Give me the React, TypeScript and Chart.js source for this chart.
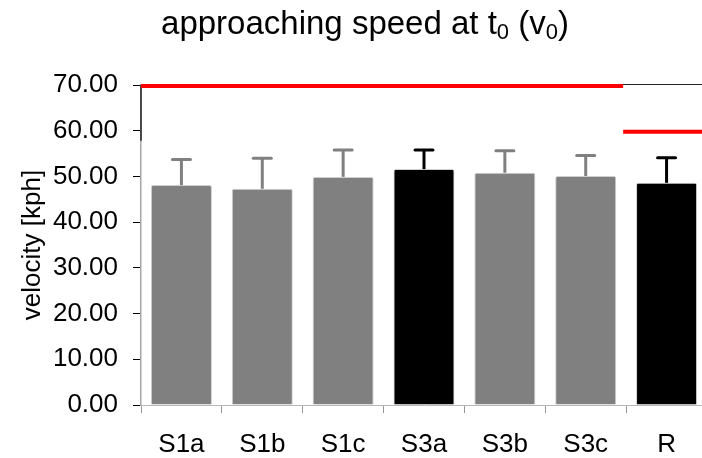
import React, { useEffect, useRef } from "react";
import { Chart, registerables } from "chart.js";

Chart.register(...registerables);

const categories = ["S1a", "S1b", "S1c", "S3a", "S3b", "S3c", "R"];
const meanVelocity = [48.1, 47.3, 49.9, 51.6, 50.8, 50.1, 48.6];
const sdVelocity = [5.6, 6.7, 5.9, 4.2, 4.8, 4.5, 5.5];
const barColors = ["#808080", "#808080", "#808080", "#000000", "#808080", "#808080", "#000000"];
const speedLimit = [70, 70, 70, 70, 70, 70, 60];
const yTicks = [0, 10, 20, 30, 40, 50, 60, 70];

const FONT = "'Liberation Sans', Arial, sans-serif";

const decorPlugin = {
  id: "decor",
  afterDatasetsDraw(chart: any) {
    const ctx = chart.ctx;
    const x = chart.scales.x;
    const y = chart.scales.y;
    const area = chart.chartArea;
    ctx.save();
    // top frame line
    ctx.strokeStyle = "#222";
    ctx.lineWidth = 1;
    ctx.beginPath();
    ctx.moveTo(area.left, Math.round(y.getPixelForValue(70)) - 0.5);
    ctx.lineTo(area.right, Math.round(y.getPixelForValue(70)) - 0.5);
    ctx.stroke();
    // dark upper part of y axis
    ctx.strokeStyle = "#222";
    ctx.lineWidth = 1.5;
    ctx.beginPath();
    ctx.moveTo(area.left, y.getPixelForValue(70));
    ctx.lineTo(area.left, y.getPixelForValue(57.8));
    ctx.stroke();

    // speed limit lines
    const half = (x.getPixelForValue(1) - x.getPixelForValue(0)) / 2;
    ctx.strokeStyle = "#ff0000";
    ctx.lineWidth = 4;
    ctx.lineCap = "butt";
    let start = 0;
    for (let i = 1; i <= speedLimit.length; i++) {
      if (i === speedLimit.length || speedLimit[i] !== speedLimit[start]) {
        const x0 = start === 0 ? area.left : x.getPixelForValue(start) - half - 3;
        const x1 = i === speedLimit.length ? area.right + 20 : x.getPixelForValue(i) - half - 3;
        const py = y.getPixelForValue(speedLimit[start]) + 1;
        ctx.beginPath();
        ctx.moveTo(x0, py);
        ctx.lineTo(x1, py);
        ctx.stroke();
        start = i;
      }
    }

    // error bars
    const meta = chart.getDatasetMeta(0);
    meta.data.forEach((bar: any, i: number) => {
      const top = y.getPixelForValue(meanVelocity[i] + sdVelocity[i]);
      const base = y.getPixelForValue(meanVelocity[i]);
      ctx.strokeStyle = barColors[i];
      ctx.lineWidth = 3;
      ctx.lineCap = "butt";
      ctx.beginPath();
      ctx.moveTo(bar.x, base);
      ctx.lineTo(bar.x, top);
      ctx.stroke();
      ctx.lineCap = "round";
      ctx.beginPath();
      ctx.moveTo(bar.x - 9, top);
      ctx.lineTo(bar.x + 9, top);
      ctx.stroke();
    });

    // title with subscripts
    const mainFont = `33px ${FONT}`;
    const subFont = `22px ${FONT}`;
    const parts: [string, boolean][] = [
      ["approaching speed at t", false],
      ["0", true],
      [" (v", false],
      ["0", true],
      [")", false],
    ];
    let total = 0;
    parts.forEach(([t, sub]) => {
      ctx.font = sub ? subFont : mainFont;
      total += ctx.measureText(t).width;
    });
    let cx = 365 - total / 2;
    ctx.fillStyle = "#000";
    ctx.textBaseline = "alphabetic";
    ctx.textAlign = "left";
    parts.forEach(([t, sub]) => {
      ctx.font = sub ? subFont : mainFont;
      ctx.fillText(t, cx, sub ? 39 : 34);
      cx += ctx.measureText(t).width;
    });
    ctx.restore();
  },
};

export default function App() {
  const ref = useRef<HTMLCanvasElement>(null);
  useEffect(() => {
    document.body.style.margin = "0";
    const chart = new Chart(ref.current!, {
      type: "bar",
      data: {
        labels: categories,
        datasets: [
          {
            data: meanVelocity,
            backgroundColor: barColors,
            borderColor: "#cfcfcf",
            borderWidth: 1,
            borderRadius: 2,
            borderSkipped: "bottom",
            barPercentage: 0.755,
            categoryPercentage: 1,
          },
        ],
      },
      options: {
        responsive: false,
        animation: false,
        devicePixelRatio: 1,
        layout: { padding: { top: 85, right: 13, left: 0, bottom: 0 } },
        plugins: { legend: { display: false }, tooltip: { enabled: false }, title: { display: false } },
        scales: {
          x: {
            type: "category",
            offset: true,
            grid: {
              offset: true,
              drawOnChartArea: false,
              drawTicks: true,
              tickLength: 8,
              tickColor: "#999",
              lineWidth: 1,
            },
            border: { color: "#b8b8b8", width: 1 },
            ticks: { color: "#000", font: { family: FONT, size: 26 }, padding: 16, maxRotation: 0 },
            afterFit(scale: any) {
              scale.height = 53;
            },
          },
          y: {
            min: 0,
            max: 70,
            afterBuildTicks(scale: any) {
              scale.ticks = yTicks.map((v) => ({ value: v }));
            },
            grid: {
              drawOnChartArea: false,
              drawTicks: true,
              tickLength: 8,
              tickColor: "#000",
              lineWidth: 1,
            },
            border: { color: "#a8a8a8", width: 1.5 },
            ticks: {
              color: "#000",
              font: { family: FONT, size: 26 },
              padding: 15,
              callback: (v: any) => Number(v).toFixed(2),
            },
            title: {
              display: true,
              text: "velocity [kph]",
              color: "#000",
              font: { family: FONT, size: 26 },
              padding: { top: 17, bottom: 0 },
            },
            afterFit(scale: any) {
              scale.width = 141;
            },
          },
        },
      },
      plugins: [decorPlugin],
    });
    return () => chart.destroy();
  }, []);
  return (
    <div style={{ position: "absolute", left: 0, top: 0, width: 702, height: 458, overflow: "hidden", background: "#fff" }}>
      <canvas ref={ref} width={720} height={458} />
    </div>
  );
}
